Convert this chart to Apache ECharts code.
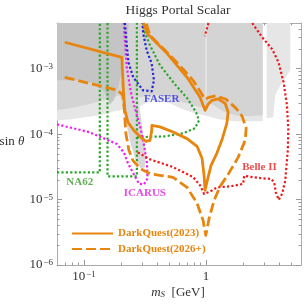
<!DOCTYPE html>
<html><head><meta charset="utf-8">
<script src="https://cdn.jsdelivr.net/npm/echarts@6/dist/echarts.min.js"></script>
<style>html,body{margin:0;padding:0;background:#fff}#c{width:307px;height:307px}</style>
</head><body><div id="c"></div>
<script>
// ---------- axis ranges & ticks (GeV, sin theta) ----------
const xRange = [0.06, 6];
const yRange = [1e-6, 5e-3];
const xMajor = [0.1, 1];
const xMinor = [0.07,0.08,0.09,0.2,0.3,0.4,0.5,0.6,0.7,0.8,0.9,2,3,4,5];
const yMajor = [1e-6, 1e-5, 1e-4, 1e-3];
const yMinor = [2e-6,3e-6,4e-6,5e-6,6e-6,7e-6,8e-6,9e-6,2e-5,3e-5,4e-5,5e-5,6e-5,7e-5,8e-5,9e-5,
                2e-4,3e-4,4e-4,5e-4,6e-4,7e-4,8e-4,9e-4,2e-3,3e-3,4e-3];

// ---------- curves [m_S (GeV), sin theta] ----------
const dq2023 = [[0.0694,2.54e-3],[0.204,1.49e-3],[0.210,4.68e-4],[0.216,2.31e-4],[0.229,1.52e-4],[0.256,1.14e-4],
 [0.292,8.94e-5],[0.322,7.77e-5],[0.347,8.04e-5],[0.357,1.07e-4],[0.360,1.36e-4],[0.419,1.29e-4],[0.536,1.08e-4],
 [0.698,8.54e-5],[0.844,6.51e-5],[0.927,4.27e-5],[0.963,2.35e-5],[0.981,1.38e-5],[1.039,2.19e-5],[1.099,3.33e-5],
 [1.225,5.09e-5],[1.346,8.04e-5],[1.48,1.46e-4],[1.517,2.16e-4],[1.433,2.96e-4],[1.255,3.47e-4],[1.12,3.29e-4],
 [1.039,2.86e-4],[0.981,2.31e-4],[0.893,3.66e-4],[0.698,7.39e-4],[0.478,1.72e-3],[0.328,3.48e-3],[0.307,5e-3]];
const dq2026 = [[0.0694,7.39e-4],[0.189,4.68e-4],[0.208,3.92e-4],[0.214,2.31e-4],[0.220,1.03e-4],[0.233,5.66e-5],
 [0.251,3.98e-5],[0.287,3.0e-5],[0.347,2.47e-5],[0.419,2.35e-5],[0.536,2.19e-5],[0.698,1.54e-5],[0.844,8.75e-6],
 [0.945,4.81e-6],[0.995,2.84e-6],[1.059,5.16e-6],[1.164,9.72e-6],[1.303,1.59e-5],[1.517,2.43e-5],[1.832,4.42e-5],
 [2.092,8.04e-5],[2.132,1.23e-4],[1.977,1.87e-4],[1.764,2.48e-4],[1.46,3.41e-4],[1.208,3.85e-4],[1.059,3.66e-4],
 [0.981,3.41e-4],[0.893,4.52e-4],[0.782,6.65e-4],[0.648,9.8e-4],[0.536,1.44e-3],[0.419,2.28e-3],[0.347,3.24e-3],[0.322,5e-3]];
const faser = [[0.216,5e-3],[0.224,2.28e-3],[0.231,1.25e-3],[0.253,7.39e-4],[0.304,4.68e-4],[0.358,4.52e-4],
 [0.374,6.65e-4],[0.358,1.21e-3],[0.326,1.91e-3],[0.305,3.48e-3],[0.301,5e-3]];
const na62A = [[0.06,2.61e-5],[0.1346,2.61e-5],[0.1346,5e-3]];
const na62B = [[0.1557,5e-3],[0.1557,2.26e-5],[0.271,2.26e-5],[0.271,5e-3]];
const na62C = [[0.271,8.94e-5],[0.460,9.26e-5],[0.648,1.03e-4],[0.812,1.23e-4],[0.876,1.63e-4],[0.828,2.16e-4],
 [0.712,3.41e-4],[0.556,5.78e-4],[0.419,1.13e-3],[0.347,2.28e-3],[0.310,3.87e-3],[0.304,5e-3]];
const icarus = [[0.06,1.41e-4],[0.111,1.07e-4],[0.186,7.06e-5],[0.212,5.27e-5],[0.229,3.58e-5],[0.256,2.43e-5],
 [0.282,1.74e-5],[0.310,1.71e-5],[0.331,2.11e-5],[0.328,3.58e-5],[0.310,6.74e-5],[0.287,1.36e-4],[0.261,2.48e-4],
 [0.242,4.36e-4],[0.224,1.05e-3],[0.216,2.72e-3],[0.212,5e-3]];
const belle2 = [[0.276,5.27e-5],[0.347,4.12e-5],[0.536,3.14e-5],[0.782,2.21e-5],[0.893,1.65e-5],[0.963,1.22e-5],
 [1.039,1.29e-5],[1.12,1.38e-5],[1.231,1.54e-5],[1.575,1.59e-5],[2.014,1.74e-5],[2.053,2.31e-5],[2.299,2.23e-5],
 [2.886,2.11e-5],[3.422,2.07e-5],[3.622,1.83e-5],[3.727,1.29e-5],[3.943,9.9e-6],[4.213,1.24e-5],[4.46,1.97e-5],
 [4.544,3.0e-5],[4.676,5.66e-5],[4.72,1.19e-4],[4.605,2.76e-4],[4.318,6.2e-4],[3.929,1.25e-3],[3.486,1.98e-3],
 [2.886,3.02e-3],[2.388,5e-3]];
const belle2Top = [[1.045,5e-3],[1.025,4.3e-3],[0.995,3.6e-3],[0.981,3.13e-3]];

// ---------- excluded regions (grey), drawn light -> dark ----------
const grayLight = [[0.06,5e-3],[2.91,5e-3],[2.91,1.57e-4],[2.3,1.57e-4],[1.73,1.57e-4],[1.30,1.68e-4],[1.04,1.87e-4],
 [0.812,2.08e-4],[0.612,2.48e-4],[0.506,2.96e-4],[0.419,3.29e-4],[0.347,3.18e-4],[0.287,2.66e-4],[0.238,2.48e-4],
 [0.197,2.31e-4],[0.163,2.16e-4],[0.135,1.94e-4],[0.101,1.81e-4],[0.0763,1.68e-4],[0.06,1.63e-4]];
const grayLightRight = [[3.14,5e-3],[4.9,5e-3],[4.9,9.45e-4],[4.46,7.14e-4],[4.06,5.57e-4],[3.69,3.92e-4],
 [3.55,1.81e-4],[3.14,1.75e-4]];
const grayMid = [[0.06,5e-3],[2.91,5e-3],[2.91,1.94e-4],[2.3,1.87e-4],[1.73,1.94e-4],[1.433,2.16e-4],[1.186,2.66e-4],
 [1.079,2.96e-4],[1.0,2.57e-4],[0.893,2.57e-4],[0.739,2.86e-4],[0.612,3.18e-4],[0.506,3.66e-4],[0.419,3.92e-4],
 [0.347,3.92e-4],[0.287,3.66e-4],[0.238,3.53e-4],[0.197,3.92e-4],[0.163,3.53e-4],[0.135,3.18e-4],[0.101,2.76e-4],
 [0.0763,2.48e-4],[0.06,2.31e-4]];
const grayDark = [[0.06,5e-3],[0.233,5e-3],[0.220,1.91e-3],[0.204,9.45e-4],[0.189,5.02e-4],[0.175,3.29e-4],
 [0.163,2.86e-4],[0.148,4.36e-4],[0.1225,5.98e-4],[0.0922,6.65e-4],[0.06,6.65e-4]];
const grayBlob = [[0.197,3.92e-4],[0.212,2.31e-4],[0.224,1.36e-4],[0.242,6.75e-5],[0.266,3.98e-5],[0.292,3.0e-5],
 [0.315,3.11e-5],[0.322,5.27e-5],[0.304,1.07e-4],[0.287,2.31e-4],[0.276,3.92e-4]];
const grayGap = [[1.0,5e-3],[1.0,3.5e-4]];

// ---------- annotation anchors ----------
const labelNames = ['FASER','NA62','ICARUS','Belle II'];
const labelAnchors = [[0.433,3.37e-4],[0.0922,1.86e-5],[0.315,1.26e-5],[2.74,3.14e-5]];

// ===================================================================
const L = Math.log10;
const F = '"Liberation Serif","DejaVu Serif",serif';
const toLog = arr => arr.map(p => [L(p[0]), L(p[1])]);
const ORANGE = '#e8850f', GREEN = '#2aa52a', BLUE = '#2222e0', MAGENTA = '#f020f0', RED = '#f01818';
const labelColors = ['#2a2ae0','#3a9a2a','#e020e0','#e82020'];

const regions = [grayLight, grayLightRight, grayMid, grayDark, grayBlob];
const regionFill = ['#e6e6e6', '#e6e6e6', '#d4d4d4', '#c4c4c4', '#d8d8d8'];

const regionSeries = {type:'custom', silent:true, z:1, clip:true, data:[[L(0.1), L(1e-4)]],
  renderItem:(p, api)=>({type:'group', children: regions.map((pts,i)=>({type:'polygon', z2:i,
      shape:{points: pts.map(q=>api.coord([L(q[0]), L(q[1])]))},
      style:{fill: regionFill[i], stroke:'none'}}))})};

function curve(name, pts, color, width, dash, z){
  return {type:'line', name:name, data:toLog(pts), symbol:'none', showSymbol:false, silent:true, z:z, clip:true,
    itemStyle:{color:color},
    lineStyle:{color:color, width:width, type:dash, cap:'butt', join:'round'}};
}
const DOT = [2.2, 2.2];

function expLabel(v){
  const e = Math.round(v);
  if (e === 0) return '{b|1}';
  return '{b|10}{s|' + (e < 0 ? '−' : '') + Math.abs(e) + '}';
}
const rich = {b:{fontFamily:F, fontSize:13, color:'#333'},
              s:{fontFamily:F, fontSize:9, color:'#333', verticalAlign:'top', padding:[0,0,0,1]}};
const TC = '#9a9a9a';
function axisPair(dim, pos, range, major, minor, showLabel){
  const base = {type:'value', min:L(range[0]), max:L(range[1]), position:pos, splitLine:{show:false}, offset:0};
  const a1 = Object.assign({}, base, {
    axisLine:{show:true, onZero:false, lineStyle:{color:'#aaaaaa', width:1}},
    axisTick:{show:true, inside:true, length:5, customValues: major.map(L), lineStyle:{color:TC}},
    axisLabel:{show:showLabel, customValues: major.map(L), formatter: expLabel, rich: rich, margin: dim==='x'?5:4}
  });
  const a2 = Object.assign({}, base, {
    axisLine:{show:false, onZero:false},
    axisTick:{show:true, inside:true, length:2.5, customValues: minor.map(L), lineStyle:{color:TC}},
    axisLabel:{show:false}
  });
  return [a1, a2];
}
const chart = echarts.init(document.getElementById('c'), null, {renderer:'canvas'});
chart.setOption({
  animation:false,
  grid:{left:57, right:6, top:23, bottom:42, show:false},
  xAxis:[...axisPair('x','bottom',xRange,xMajor,xMinor,true), ...axisPair('x','top',xRange,xMajor,xMinor,false)],
  yAxis:[...axisPair('y','left',yRange,yMajor,yMinor,true), ...axisPair('y','right',yRange,yMajor,yMinor,false)],
  legend:{data:['DarkQuest(2023)','DarkQuest(2026+)'], orient:'vertical', left:66, top:223,
    itemWidth:41, itemHeight:14, itemGap:4.3, selectedMode:false,
    itemStyle:{opacity:0},
    textStyle:{fontFamily:F, fontWeight:'bold', fontSize:11, color:ORANGE}},
  graphic:[
    {type:'text', x:178, y:10, style:{text:'Higgs Portal Scalar', fontFamily:F, fontSize:13.5, fill:'#333', align:'center', verticalAlign:'middle'}},
    {type:'text', x:12, y:142, style:{text:'sin {i|θ}', fontFamily:F, fontSize:13, fill:'#333', align:'center', verticalAlign:'middle',
       rich:{i:{fontFamily:F, fontSize:13, fontStyle:'italic', fill:'#333'}}}},
    {type:'text', x:178, y:293, style:{text:'{m|m}{sub|S}{t|  [GeV]}', fontFamily:F, fontSize:13, fill:'#333', align:'center', verticalAlign:'middle',
       rich:{m:{fontFamily:F, fontSize:13, fontStyle:'italic', fill:'#333'},
             sub:{fontFamily:F, fontSize:9, fontStyle:'italic', fill:'#333', verticalAlign:'bottom'},
             t:{fontFamily:F, fontSize:13, fill:'#333'}}}}
  ],
  series:[
    regionSeries,
    curve('gap', grayGap, '#ececec', 1.2, 'solid', 4),
    curve('NA62a', na62A, GREEN, 2.2, DOT, 5),
    curve('NA62b', na62B, GREEN, 2.2, DOT, 5),
    curve('NA62c', na62C, GREEN, 2.2, DOT, 5),
    curve('ICARUS', icarus, MAGENTA, 2.2, DOT, 5),
    curve('FASER', faser, BLUE, 2.2, DOT, 5),
    curve('Belle II', belle2, RED, 2.2, DOT, 5),
    curve('Belle II top', belle2Top, RED, 2.2, DOT, 5),
    curve('DarkQuest(2026+)', dq2026, ORANGE, 2.8, [10,4], 7),
    curve('DarkQuest(2023)', dq2023, ORANGE, 2.8, 'solid', 8),
    {type:'scatter', symbolSize:0, silent:true, z:9,
      data: labelNames.map((n,i)=>({name:n, value:[L(labelAnchors[i][0]), L(labelAnchors[i][1])],
        label:{color:labelColors[i]}})),
      label:{show:true, position:'inside', formatter:'{b}', fontFamily:F, fontWeight:'bold', fontSize:11}}
  ]
});
</script></body></html>
